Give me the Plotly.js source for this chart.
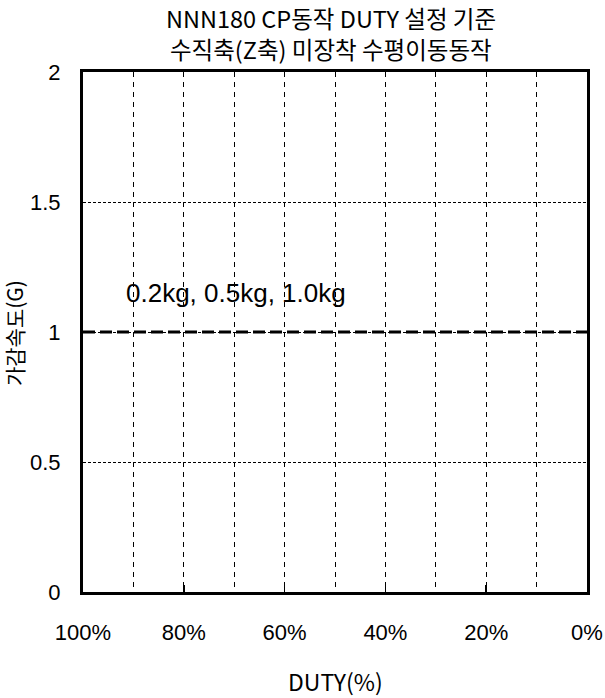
<!DOCTYPE html>
<html><head><meta charset="utf-8">
<script src="https://cdn.plot.ly/plotly-3.0.1.min.js"></script>
<style>body{margin:0;background:#fff}#chart{width:605px;height:698px}</style>
</head><body><div id="chart"></div>
<script>
const dutyX = [100, 0];
const accelY = [1, 1];
const xTickVals = [100, 80, 60, 40, 20, 0];
const xTickText = ['100%', '80%', '60%', '40%', '20%', '0%'];
const xMinorGrid = [90, 70, 50, 30, 10];
const yTickVals = [0, 0.5, 1, 1.5, 2];
const yTickText = ['0', '0.5', '1', '1.5', '2'];
const titleLines = ['NNN180 CP동작 DUTY 설정 기준', '수직축(Z축) 미장착 수평이동동작'];
const seriesLabel = '0.2kg, 0.5kg, 1.0kg';
const labelPos = [69.6, 1.15];

const cjk = '"Noto Sans CJK KR", sans-serif';
const latin = '"Liberation Sans", Arial, sans-serif';

const data = [{
  x: dutyX, y: accelY, type: 'scatter', mode: 'lines',
  line: {color: '#000', width: 3, dash: '12px,5px'},
  showlegend: false, hoverinfo: 'skip'
}];

const txt = (x, y, text, size, family, extra) => Object.assign({
  x: x, y: y, xref: 'paper', yref: 'paper', text: text, showarrow: false,
  xanchor: 'center', yanchor: 'middle', font: {family: family, size: size, color: '#000'}
}, extra || {});

const layout = {
  width: 605, height: 698,
  margin: {l: 83, r: 18, t: 72, b: 106},
  paper_bgcolor: '#fff', plot_bgcolor: '#fff',
  xaxis: {
    range: [100, 0], tickmode: 'array', tickvals: xTickVals, ticktext: xTickText,
    tickfont: {family: latin, size: 22, color: '#000'},
    ticks: 'inside', ticklen: 7, tickwidth: 1.5, tickcolor: '#000',
    ticklabelstandoff: 19,
    showline: true, linecolor: '#000', linewidth: 3, mirror: true,
    showgrid: true, gridcolor: '#000', gridwidth: 1, griddash: '5px,5px',
    zeroline: false,
    minor: {tickvals: xMinorGrid, showgrid: true, gridcolor: '#000', gridwidth: 1, griddash: '5px,5px', ticks: ''}
  },
  yaxis: {
    range: [0, 2], tickmode: 'array', tickvals: yTickVals, ticktext: yTickText,
    tickfont: {family: latin, size: 22, color: '#000'},
    ticks: '', ticklabelstandoff: 15,
    showline: true, linecolor: '#000', linewidth: 3, mirror: true,
    showgrid: true, gridcolor: '#000', gridwidth: 1, griddash: '3px,2px',
    zeroline: false
  },
  annotations: [
    {x: labelPos[0], y: labelPos[1], xref: 'x', yref: 'y', text: seriesLabel,
     showarrow: false, xanchor: 'center', yanchor: 'middle',
     font: {family: latin, size: 26, color: '#000'}},
    txt(0.492, 1.1048, titleLines[0], 23.5, cjk),
    txt(0.492, 1.0442, titleLines[1], 23.5, cjk),
    txt(0.5, -0.172, 'DUTY(%)', 23, cjk),
    txt(-0.1369, 0.498, '가감속도(G)', 21, cjk, {textangle: -90})
  ]
};
Plotly.newPlot('chart', data, layout, {displayModeBar: false, staticPlot: true});
</script></body></html>
